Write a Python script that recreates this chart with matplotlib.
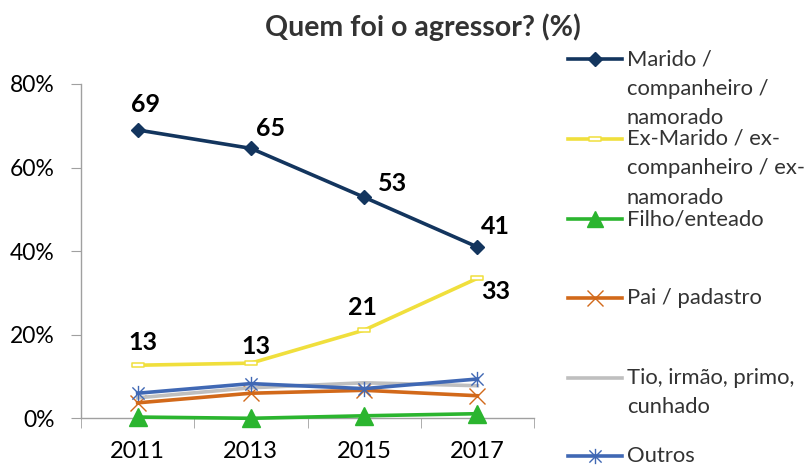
import matplotlib
matplotlib.use("Agg")
import matplotlib.pyplot as plt
from matplotlib.path import Path
from matplotlib.lines import Line2D

plt.rcParams['font.family'] = ['Lato', 'DejaVu Sans']

years = ["2011", "2013", "2015", "2017"]
marido = [69.0, 64.6, 52.9, 41.0]
ex_marido = [12.7, 13.2, 21.1, 33.5]
filho = [0.3, 0.0, 0.6, 1.1]
pai = [3.7, 6.0, 6.7, 5.4]
tio = [4.9, 7.3, 8.5, 7.8]
outros = [6.0, 8.3, 7.1, 9.4]

marido_labels = ["69", "65", "53", "41"]
ex_labels = ["13", "13", "21", "33"]

series_names = ["Marido /\ncompanheiro /\nnamorado",
                "Ex-Marido / ex-\ncompanheiro / ex-\nnamorado",
                "Filho/enteado",
                "Pai / padastro",
                "Tio, irmão, primo,\ncunhado",
                "Outros"]
yticks = [0, 20, 40, 60, 80]
ytick_labels = ["0%", "20%", "40%", "60%", "80%"]
title = "Quem foi o agressor? (%)"

W, H = 806, 466
fig = plt.figure(figsize=(W / 100, H / 100), dpi=100)
fig.patch.set_facecolor("white")
ax = fig.add_axes([81 / W, 1 - 418.3 / H, 453 / W, (418.3 - 84) / H])

star = Path([(0, -1), (0, 1), (-0.8, -0.8), (0.8, 0.8), (-0.8, 0.8), (0.8, -0.8)],
            [Path.MOVETO, Path.LINETO, Path.MOVETO, Path.LINETO, Path.MOVETO, Path.LINETO])
rect = Path([(-1, -0.4), (1, -0.4), (1, 0.4), (-1, 0.4), (-1, -0.4)],
            [Path.MOVETO, Path.LINETO, Path.LINETO, Path.LINETO, Path.CLOSEPOLY])

styles = [
    dict(color="#13355E", marker="D", markersize=7, lw=2.6),
    dict(color="#F0DF3C", marker=rect, markersize=8.5, lw=2.6, mfc="white", mec="#F0DF3C", mew=1.1),
    dict(color="#2BB52F", marker="^", markersize=13, lw=2.6),
    dict(color="#D2691A", marker="x", markersize=11, lw=2.6, mew=1.0),
    dict(color="#BFBFBF", marker=None, lw=2.6),
    dict(color="#4068B4", marker=star, markersize=11, lw=2.6, mew=1.0, mfc="none"),
]
data = [marido, ex_marido, filho, pai, tio, outros]
x = list(range(len(years)))
for vals, st in zip(data, styles):
    ax.plot(x, vals, clip_on=False, zorder=3, **st)

ax.set_xlim(-0.5, 3.5)
ax.set_ylim(0, 80)
ax.set_yticks(yticks)
ax.set_yticklabels(ytick_labels, fontsize=16.5)
ax.set_xticks(x)
ax.set_xticklabels(years, fontsize=17)
ax.set_xticks([-0.5, 0.5, 1.5, 2.5, 3.5], minor=True)
ax.tick_params(axis='x', which='major', length=0, pad=16)
ax.tick_params(axis='x', which='minor', length=7, color="#A0A0A0", direction='out')
ax.tick_params(axis='y', length=7, color="#A0A0A0", direction='out', pad=12)
for s in ["top", "right"]:
    ax.spines[s].set_visible(False)
for s in ["left", "bottom"]:
    ax.spines[s].set_color("#A0A0A0")
    ax.spines[s].set_linewidth(1.0)
ax.set_facecolor("none")

# data labels (offsets in pixels)
m_off = [(8, 25), (20, 20), (28, 14), (18, 20)]
e_off = [(5, 23), (5, 17), (-2, 23), (18, -13)]
for i in x:
    ax.annotate(marido_labels[i], (x[i], marido[i]), xytext=(m_off[i][0] * 0.72, m_off[i][1] * 0.72),
                textcoords="offset points", ha="center", va="center", fontsize=18, fontweight="bold")
    ax.annotate(ex_labels[i], (x[i], ex_marido[i]), xytext=(e_off[i][0] * 0.72, e_off[i][1] * 0.72),
                textcoords="offset points", ha="center", va="center", fontsize=18, fontweight="bold")

fig.text(423 / W, 1 - 27 / H, title, ha="center", va="center", fontsize=20.5, fontweight="bold", color="#333333")

# legend
leg_y = [59.3, 138.7, 219, 298.3, 377.7, 455.7]
for name, st, yy in zip(series_names, styles, leg_y):
    yf = 1 - yy / H
    line = Line2D([568 / W, 621.7 / W], [yf, yf], transform=fig.transFigure, **st)
    line.set_markevery([])
    fig.add_artist(line)
    if st.get("marker") is not None:
        mk = dict(st)
        mk["lw"] = 0
        m = Line2D([594.8 / W], [yf], transform=fig.transFigure, **mk)
        if st["marker"] == "^":
            m.set_markersize(11)
        fig.add_artist(m)
    for k, ln in enumerate(name.split("\n")):
        fig.text(627 / W, 1 - (yy + k * 29.5) / H, ln, ha="left", va="center", fontsize=15.8, color="#333333")

fig.savefig("out.png", dpi=100)
